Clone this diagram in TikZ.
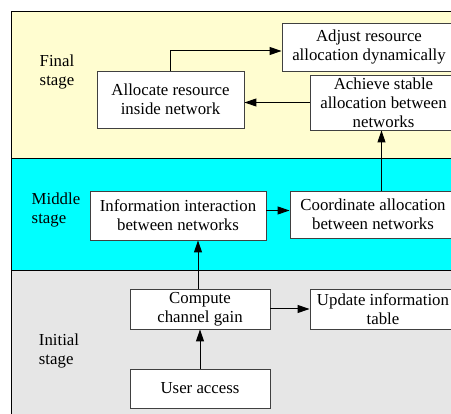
\documentclass[tikz,border=0pt]{standalone}
\usepackage{fontspec}
\setmainfont{Liberation Serif}
\usetikzlibrary{arrows.meta}

\definecolor{finalbg}{RGB}{255,253,208}
\definecolor{middlebg}{RGB}{0,255,255}
\definecolor{initbg}{RGB}{230,230,230}

\begin{document}
\begin{tikzpicture}[x=1pt,y=-1pt,
  box/.style={draw=black!75,line width=0.9pt,fill=white,align=center,inner sep=0pt,
    font=\fontsize{16.8}{19}\selectfont},
  band/.style={draw=black,line width=0.9pt},
  stagelabel/.style={align=left,font=\fontsize{16.8}{19}\selectfont},
  flow/.style={-{Triangle[length=12pt,width=8pt]},line width=1pt}]
  \useasboundingbox (0,0) rectangle (451,414);
  \clip (0,0) rectangle (451,414);

  % stage bands
  \draw[band,fill=finalbg] (11,11) rectangle (470,158);
  \draw[band,fill=middlebg] (11,158) rectangle (470,270);
  \draw[band,fill=initbg] (11,270) rectangle (470,430);

  \node[stagelabel] (lfinal) at (57,72) {Final\\stage};
  \node[stagelabel] (lmiddle) at (56,210) {Middle\\stage};
  \node[stagelabel] (linit) at (59,351) {Initial\\stage};

  % final stage
  \node[box,minimum width=174pt,minimum height=48pt] (adjust) at (369,47)
    {Adjust resource\\allocation dynamically};
  \node[box,minimum width=147pt,minimum height=57pt] (allocate) at (170.5,99.5)
    {Allocate resource\\inside network};
  \node[box,minimum width=147pt,minimum height=55pt] (achieve) at (383.5,102.5)
    {Achieve stable\\allocation between\\networks};

  % middle stage
  \node[box,minimum width=176pt,minimum height=49pt] (info) at (178,215.5)
    {Information interaction\\between networks};
  \node[box,minimum width=166pt,minimum height=47pt] (coord) at (373,214.5)
    {Coordinate allocation\\between networks};

  % initial stage
  \node[box,minimum width=140pt,minimum height=40pt] (compute) at (200,309)
    {Compute\\channel gain};
  \node[box,minimum width=146pt,minimum height=40pt] (update) at (383,309)
    {Update information\\table};
  \node[box,minimum width=140pt,minimum height=39pt] (user) at (200,388.5)
    {User access};

  \draw[flow] (user) -- (compute);
  \draw[flow] (compute) -- (update);
  \draw[flow] ([xshift=-2pt]compute.north) -- ([xshift=-2pt]compute.north |- info.south);
  \draw[flow] ([yshift=5pt]info.east) -- ([yshift=5pt]info.east -| coord.west);
  \draw[flow] ([xshift=-2pt]achieve.south |- coord.north) -- ([xshift=-2pt]achieve.south);
  \draw[flow] (achieve.west) -- (achieve.west -| allocate.east);
  \draw[flow] (allocate.north) |- ([yshift=-4pt]adjust.west);
\end{tikzpicture}
\end{document}
